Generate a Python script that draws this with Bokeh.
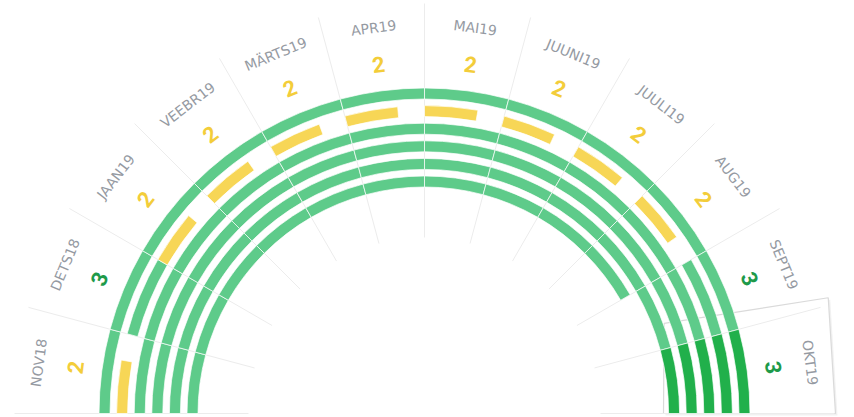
import math
from bokeh.plotting import figure
from bokeh.models import ColumnDataSource
from bokeh.core.properties import value
from bokeh.embed import file_html
from bokeh.resources import INLINE

# ---- data ----
months = ["NOV18", "DETS18", "JAAN19", "VEEBR19", "MÄRTS19", "APR19",
          "MAI19", "JUUNI19", "JUULI19", "AUG19", "SEPT19", "OKT19"]
values = [2, 3, 2, 2, 2, 2, 2, 2, 2, 2, 3, 3]
value_max = 3
# number of months covered by the plain rings (outer ring, then rings inside the value ring)
outer_ring_months = 12
inner_ring_months = [12, 12, 12, 10]
current_month = "OKT19"

# ---- styles / geometry ----
W, H = 854, 417
CX, CY = 424, 4
R_OUTER = 320
STEP = 17.6
BAND = 11
GREEN = "#5ecb8a"
DARK = "#21b04b"
YELLOW = "#f7d656"
LINE = "#ececec"
LABEL = "#959aa2"

n = len(months)
span = 180.0 / n
cur = months.index(current_month)

p = figure(width=W, height=H, x_range=(0, W), y_range=(0, H),
           output_backend="svg", toolbar_location=None, min_border=0,
           x_axis_location=None, y_axis_location=None)
p.grid.visible = False
p.outline_line_color = None
p.background_fill_color = "white"

def polar(r, deg):
    a = math.radians(deg)
    return CX + r * math.cos(a), CY + r * math.sin(a)

# highlight card of the current month (slightly tilted sector)
a_hi = 180 - span * cur
a_lo = a_hi - span
corners = [(239, a_lo), (256, a_hi + 5.6), (420, a_hi + 1.0), (411, a_lo)]
hx = [polar(r, d)[0] for r, d in corners]
hy = [polar(r, d)[1] for r, d in corners]
p.patch(x=[v + 2 for v in hx], y=[v - 2 for v in hy], fill_color="#ededed",
        fill_alpha=0.8, line_color=None)
p.patch(x=hx, y=hy, fill_color="white", line_color="#dadada", line_width=1.2)

# radial separators
xs, ys = [], []
for i in range(n + 1):
    d = 180 - span * i
    x0, y0 = polar(176, d)
    x1, y1 = polar(410, d)
    xs.append([x0, x1])
    ys.append([y0, y1])
p.multi_line(xs=xs, ys=ys, line_color=LINE, line_width=1)

# ring segments
seg = dict(r=[], s=[], e=[], c=[])

def add(ring_idx, i, frac):
    hi = 180 - span * i
    lo = hi - span * frac
    seg["r"].append(R_OUTER - STEP * ring_idx)
    seg["s"].append(math.radians(lo))
    seg["e"].append(math.radians(hi))
    seg["c"].append(DARK if i == cur else (GREEN if frac >= 1 else YELLOW))

for i in range(outer_ring_months):
    add(0, i, 1.0)
for i, v in enumerate(values):
    add(1, i, v / value_max)
for k, m in enumerate(inner_ring_months):
    for i in range(m):
        add(2 + k, i, 1.0)

src = ColumnDataSource(data=dict(
    ir=[r - BAND / 2 for r in seg["r"]], orr=[r + BAND / 2 for r in seg["r"]],
    s=seg["s"], e=seg["e"], c=seg["c"]))
p.annular_wedge(x=CX, y=CY, inner_radius="ir", outer_radius="orr",
                start_angle="s", end_angle="e", fill_color="c",
                line_color="white", line_width=0.7, source=src)

# labels
lx, ly, la, vx, vy, vt, vc = [], [], [], [], [], [], []
for i, (m, v) in enumerate(zip(months, values)):
    d = 180 - span * (i + 0.5)
    x, y = polar(389, d)
    lx.append(x); ly.append(y)
    x, y = polar(352, d)
    vx.append(x); vy.append(y)
    la.append(math.radians(d - 90))
    vt.append(str(v))
    vc.append("#1e9a4a" if v == value_max else "#f3cd3a")

p.text(x=lx, y=ly, text=months, angle=la, text_align="center",
       text_baseline="middle", text_font=value("DejaVu Sans"),
       text_font_size="14px", text_color=LABEL)
p.text(x=vx, y=vy, text=vt, angle=la, text_align="center",
       text_baseline="middle", text_font=value("Roboto"),
       text_font_style="bold", text_font_size="22px", text_color=vc)

open("out.html", "w").write(file_html(p, INLINE))
